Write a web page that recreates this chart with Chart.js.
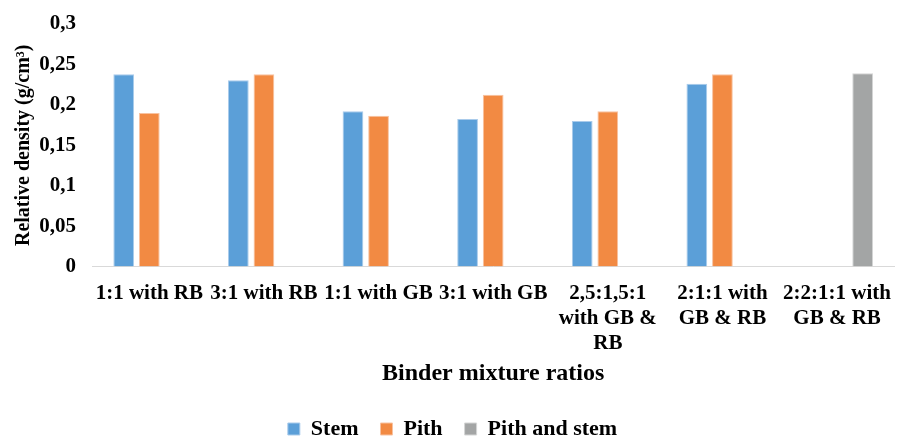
<!DOCTYPE html>
<html>
<head>
<meta charset="utf-8">
<script src="https://cdn.jsdelivr.net/npm/chart.js@4.4.0/dist/chart.umd.min.js"></script>
<style>
  body { margin: 0; background: #fff; }
  #wrap { width: 905px; height: 440px; }
</style>
</head>
<body>
<div id="wrap"><canvas id="myChart"></canvas></div>
<script>
// categories on the x axis (multi-line as in the picture)
var categories = [
  '1:1 with RB',
  '3:1 with RB',
  '1:1 with GB',
  '3:1 with GB',
  ['2,5:1,5:1', 'with GB &', 'RB'],
  ['2:1:1 with', 'GB & RB'],
  ['2:2:1:1 with', 'GB & RB']
];

// relative density values
var stem = [0.238, 0.2305, 0.192, 0.1825, 0.180, 0.226, null];
var pith = [0.190, 0.238, 0.1865, 0.2125, 0.192, 0.238, null];
var pithAndStem = [null, null, null, null, null, null, 0.239];

var yTickLabels = ['0', '0,05', '0,1', '0,15', '0,2', '0,25', '0,3'];

var fuente = 'Liberation Serif, Times New Roman, serif';

const data = {
  labels: categories,
  datasets: [
    {
      label: 'Stem',
      data: stem,
      backgroundColor: '#5B9FD8',
      borderColor: '#A9CBEB',
      borderWidth: 1
    },
    {
      label: 'Pith',
      data: pith,
      backgroundColor: '#F28A43',
      borderColor: '#F8C2A0',
      borderWidth: 1
    },
    {
      label: 'Pith and stem',
      data: pithAndStem,
      backgroundColor: '#A3A5A5',
      borderColor: '#D4D5D5',
      borderWidth: 1
    }
  ]
};

const config = {
  type: 'bar',
  data: data,
  options: {
    responsive: true,
    maintainAspectRatio: false,
    animation: false,
    categoryPercentage: 0.67,
    barPercentage: 0.81,
    layout: { padding: { top: 0, right: 0, bottom: -10, left: 0 } },
    plugins: {
      tooltip: { enabled: false },
      legend: {
        position: 'bottom',
        labels: {
          color: '#000',
          boxWidth: 12,
          boxHeight: 12,
          padding: 22,
          font: { family: fuente, size: 22, weight: 'bold' }
        }
      }
    },
    scales: {
      x: {
        grid: { display: false, drawTicks: false },
        border: { display: true, color: '#d9d9d9', width: 1 },
        ticks: {
          color: '#000',
          maxRotation: 0,
          autoSkip: false,
          padding: 14,
          font: { family: fuente, size: 21, weight: 'bold', lineHeight: 1.2 }
        },
        title: {
          display: true,
          text: 'Binder mixture ratios',
          color: '#000',
          padding: { top: -11, bottom: 8 },
          font: { family: fuente, size: 24, weight: 'bold', lineHeight: 1.2 }
        }
      },
      y: {
        min: 0,
        max: 0.3,
        grid: { display: false, drawTicks: false },
        border: { display: false },
        afterFit: function (scale) {
          scale.width = 92;
          scale.paddingTop = 24;
        },
        ticks: {
          stepSize: 0.05,
          color: '#000',
          padding: 16,
          font: { family: fuente, size: 21, weight: 'bold', lineHeight: 1.2 },
          callback: function (value, index) { return yTickLabels[index]; }
        },
        title: {
          display: true,
          text: 'Relative density (g/cm³)',
          color: '#000',
          padding: { top: 12, bottom: 0 },
          font: { family: fuente, size: 20, weight: 'bold', lineHeight: 1.2 }
        }
      }
    }
  }
};

const myChart = new Chart(document.getElementById('myChart'), config);
</script>
</body>
</html>
